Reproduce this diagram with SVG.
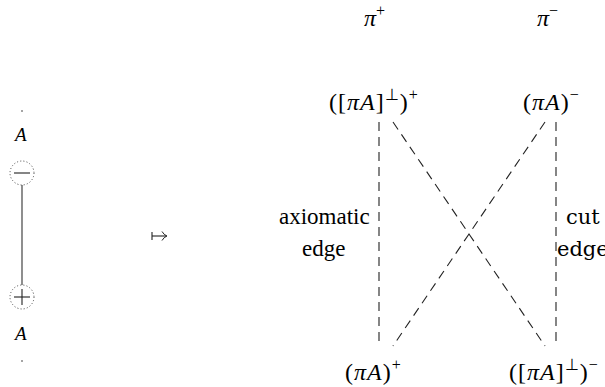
<svg xmlns="http://www.w3.org/2000/svg" width="605" height="387" viewBox="0 0 605 387">
<style>
.dash{stroke:#222;stroke-width:1.1;stroke-dasharray:9 6;fill:none}
.dot{fill:none;stroke:#444;stroke-width:1;stroke-dasharray:1 2.2}
.ln{stroke:#222;stroke-width:1.1}
.t{font-family:"DejaVu Serif",serif;font-size:21px}
</style>
<rect width="605" height="387" fill="#fff"/>
<g id="left-graph">
<circle cx="22" cy="111" r="0.8" fill="#333"/>
<text x="15" y="141" font-family="serif" font-size="19" font-style="italic">A</text>
<circle class="dot" cx="22" cy="173" r="12"/>
<line class="ln" x1="14" y1="173" x2="30" y2="173"/>
<line x1="22" y1="185" x2="22" y2="285" stroke="#444" stroke-width="1.2"/>
<circle class="dot" cx="22" cy="297" r="12"/>
<line class="ln" x1="14" y1="297" x2="30" y2="297"/>
<line class="ln" x1="22" y1="289" x2="22" y2="305"/>
<text x="15" y="340" font-family="serif" font-size="19" font-style="italic">A</text>
<circle cx="22" cy="361" r="0.8" fill="#333"/>
</g>
<g id="mapsto">
<line class="ln" x1="152" y1="236" x2="166" y2="236"/>
<line class="ln" x1="152" y1="232" x2="152" y2="240"/>
<path d="M162,231.5 Q164,235 167,236 Q164,237 162,240.5" fill="none" stroke="#222" stroke-width="1"/>
</g>
<g id="connectors">
<line class="dash" x1="379" y1="122" x2="379" y2="346"/>
<line class="dash" x1="556" y1="122" x2="556" y2="346"/>
<line class="dash" x1="393" y1="122" x2="545" y2="346"/>
<line class="dash" x1="545" y1="122" x2="393" y2="346"/>
</g>
<g id="pi-plus"><text x="364" y="26" font-family="serif" font-size="24"><tspan font-style="italic">π</tspan><tspan font-size="16" dy="-10">+</tspan></text></g>
<g id="pi-minus"><text x="537" y="26" font-family="serif" font-size="24"><tspan font-style="italic">π</tspan><tspan font-size="16" dy="-10">−</tspan></text></g>
<g id="n-perp-plus"><text x="329" y="110" font-family="serif" font-size="24" letter-spacing="1">([<tspan font-style="italic">πA</tspan>]<tspan font-size="16" dy="-10">⊥</tspan><tspan dy="10">)</tspan><tspan font-size="16" dy="-10">+</tspan></text></g>
<g id="n-pa-minus"><text x="523" y="110" font-family="serif" font-size="24" letter-spacing="1">(<tspan font-style="italic">πA</tspan>)<tspan font-size="16" dy="-10">−</tspan></text></g>
<g id="n-pa-plus"><text x="345" y="380" font-family="serif" font-size="24" letter-spacing="1">(<tspan font-style="italic">πA</tspan>)<tspan font-size="16" dy="-10">+</tspan></text></g>
<g id="n-perp-minus"><text x="509" y="380" font-family="serif" font-size="24" letter-spacing="1">([<tspan font-style="italic">πA</tspan>]<tspan font-size="16" dy="-10">⊥</tspan><tspan dy="10">)</tspan><tspan font-size="16" dy="-10">−</tspan></text></g>
<g id="label-axiomatic"><text x="279" y="224" font-family="serif" font-size="23">axiomatic</text><text x="302" y="256" font-family="serif" font-size="23">edge</text></g>
<g id="label-cut"><text x="566" y="224" class="t">cut</text><text x="557" y="256" class="t">edge</text></g>
</svg>
